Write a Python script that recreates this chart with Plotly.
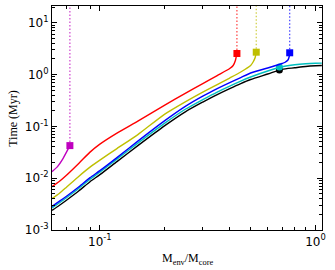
import plotly.graph_objects as go

# ---- data ----
x_std = [0.06, 0.065, 0.07, 0.08, 0.09, 0.1, 0.12, 0.15, 0.2, 0.25, 0.3, 0.35, 0.4, 0.45, 0.5,
         0.6, 0.7, 0.8, 0.9, 1.0, 1.07]
black_t = [0.00239, 0.00301, 0.00376, 0.00573, 0.00855, 0.0117, 0.0209, 0.0425, 0.1034, 0.193,
           0.294, 0.411, 0.536, 0.670, 0.801, 1.022, 1.26, 1.347, 1.427, 1.472, 1.492]
cyan_t = [0.00267, 0.00336, 0.00420, 0.00640, 0.00955, 0.0131, 0.0233, 0.0475, 0.1155, 0.216,
          0.328, 0.459, 0.599, 0.748, 0.895, 1.168, 1.409, 1.539, 1.610, 1.646, 1.661]

blue_x = [0.06, 0.065, 0.07, 0.08, 0.09, 0.1, 0.12, 0.15, 0.2, 0.25, 0.3, 0.35, 0.4, 0.45, 0.5,
          0.6, 0.7, 0.72, 0.745, 0.755, 0.759]
blue_t = [0.00285, 0.00360, 0.00449, 0.00685, 0.01023, 0.01396, 0.0249, 0.0519, 0.129, 0.246,
          0.384, 0.536, 0.700, 0.875, 1.069, 1.335, 1.632, 1.705, 1.906, 2.227, 2.626]

yellow_x = [0.06, 0.065, 0.07, 0.08, 0.09, 0.1, 0.12, 0.15, 0.2, 0.25, 0.3, 0.35, 0.4, 0.45,
            0.5, 0.515, 0.525, 0.531]
yellow_t = [0.00402, 0.00513, 0.00670, 0.01093, 0.01632, 0.0223, 0.0372, 0.0693, 0.1725, 0.301,
            0.459, 0.641, 0.856, 1.118, 1.492, 1.783, 2.131, 2.698]

red_x = [0.06, 0.065, 0.07, 0.08, 0.09, 0.1, 0.12, 0.15, 0.2, 0.25, 0.3, 0.35, 0.4, 0.415,
         0.425, 0.432]
red_t = [0.00685, 0.00875, 0.01143, 0.0195, 0.0318, 0.0454, 0.0741, 0.1263, 0.2574, 0.439,
         0.670, 0.956, 1.306, 1.492, 1.865, 2.546]

magenta_x = [0.06, 0.0636, 0.067, 0.0706, 0.0726]
magenta_t = [0.01336, 0.01668, 0.0228, 0.0340, 0.0425]

# end markers: (x, t, symbol, has vertical dotted line)
ends = {
    "magenta": (0.0726, 0.0425, "square", True),
    "red": (0.432, 2.546, "square", True),
    "yellow": (0.531, 2.698, "square", True),
    "blue": (0.759, 2.626, "square", True),
    "cyan": (0.68, 1.40, "circle", False),
    "black": (0.68, 1.22, "circle", False),
}

colors = {"magenta": "#bf00bf", "red": "#ff0000", "yellow": "#bfbf00",
          "blue": "#0000ff", "cyan": "#00bfbf", "black": "#000000"}

x_tickvals = [0.1, 1.0]
x_ticktext = ["10<sup>-1</sup>", "10<sup>0</sup>"]
y_tickvals = [0.001, 0.01, 0.1, 1.0, 10.0]
y_ticktext = ["10<sup>-3</sup>", "10<sup>-2</sup>", "10<sup>-1</sup>", "10<sup>0</sup>", "10<sup>1</sup>"]
x_minor = [m * d for d in (0.01, 0.1) for m in range(2, 10)]
y_minor = [m * d for d in (0.001, 0.01, 0.1, 1.0, 10.0) for m in range(2, 10)]

series = [
    ("black", x_std, black_t),
    ("cyan", x_std, cyan_t),
    ("blue", blue_x, blue_t),
    ("yellow", yellow_x, yellow_t),
    ("red", red_x, red_t),
    ("magenta", magenta_x, magenta_t),
]

fig = go.Figure()
for name, xs, ts in series:
    c = colors[name]
    fig.add_trace(go.Scatter(x=xs, y=ts, mode="lines",
                             line=dict(color=c, width=1.4, shape="spline", smoothing=0.6),
                             showlegend=False, hoverinfo="skip"))
    ex, et, sym, vline = ends[name]
    if vline:
        fig.add_trace(go.Scatter(x=[ex, ex], y=[et, 100], mode="lines",
                                 line=dict(color=c, width=1.2, dash="1.5px,2px"),
                                 opacity=0.75, showlegend=False, hoverinfo="skip"))
    fig.add_trace(go.Scatter(x=[ex], y=[et], mode="markers",
                             marker=dict(color=c, symbol=sym, size=7, line=dict(width=0)),
                             showlegend=False, hoverinfo="skip"))

axis_common = dict(
    type="log", showline=True, linecolor="#000", linewidth=1.2, mirror="ticks",
    ticks="inside", ticklen=5, tickcolor="#000", showgrid=False, zeroline=False,
    automargin=False,
    tickfont=dict(family="DejaVu Sans", size=12, color="#000"),
)

fig.update_xaxes(range=[-1.222, 0.030], tickmode="array",
                 tickvals=x_tickvals, ticktext=x_ticktext,
                 minor=dict(tickmode="array", tickvals=x_minor, ticks="inside", ticklen=2.5,
                            tickcolor="#000", showgrid=False),
                 **axis_common)
fig.update_yaxes(range=[-3.0, 1.322], tickmode="array",
                 tickvals=y_tickvals, ticktext=y_ticktext,
                 minor=dict(tickmode="array", tickvals=y_minor, ticks="inside", ticklen=2.5,
                            tickcolor="#000", showgrid=False),
                 **axis_common)

fig.add_annotation(text="M<sub>env</sub>/M<sub>core</sub>", xref="paper", yref="paper",
                   x=0.5, y=-0.085, yanchor="top", showarrow=False,
                   font=dict(family="Liberation Serif", size=12, color="#000"))
fig.add_annotation(text="Time (Myr)", xref="paper", yref="paper",
                   x=-0.145, y=0.5, xanchor="center", textangle=-90, showarrow=False,
                   font=dict(family="Liberation Serif", size=12, color="#000"))

fig.update_layout(width=335, height=270, margin=dict(l=52, r=13, t=6, b=40),
                  paper_bgcolor="white", plot_bgcolor="white")

fig.write_html("out.html", config={"displayModeBar": False},
               post_script="document.body.style.margin='0px';")
